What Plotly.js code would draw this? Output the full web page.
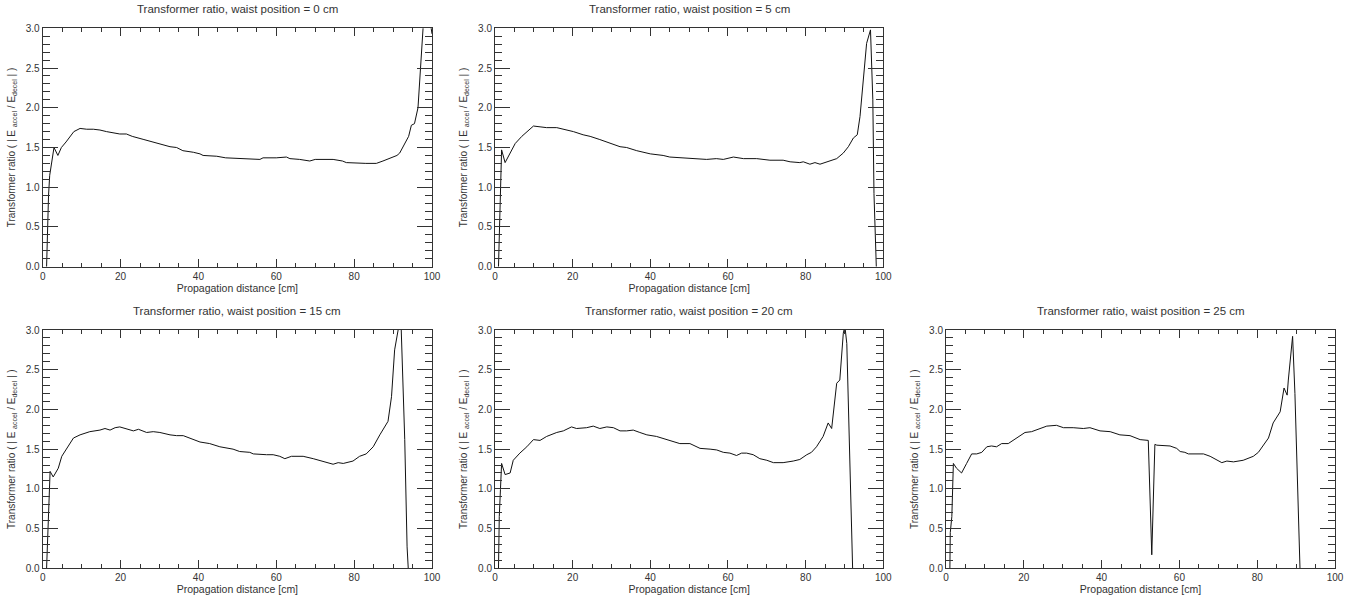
<!DOCTYPE html>
<html>
<head>
<meta charset="utf-8">
<script src="https://cdn.plot.ly/plotly-3.0.1.min.js"></script>
<style>html,body{margin:0;padding:0;background:#fff;}#chart{width:1367px;height:602px;}</style>
</head>
<body>
<div id="chart"></div>
<script>
// ---- data ----
const waistPositions = [0, 5, 15, 20, 25];
const xTickVals = [0, 20, 40, 60, 80, 100];
const yTickVals = [0.0, 0.5, 1.0, 1.5, 2.0, 2.5, 3.0];

const x_w0 = [1.0,1.2,1.5,1.8,2.2,2.9,3.9,4.8,6.0,8.0,9.6,11.3,13.0,14.7,16.4,18.0,19.8,21.5,23.0,26.0,28.4,31.0,32.7,34.4,36.0,38.7,40.4,41.2,44.7,47.0,50.6,55.8,56.6,60.0,62.6,63.5,66.0,68.6,70.0,74.6,77.0,78.0,83.0,85.7,87.4,89.0,91.0,91.7,93.0,94.0,94.7,95.5,96.4,97.0,97.7,98.6,100];
const y_w0 = [0.0,0.4,0.9,1.15,1.3,1.5,1.4,1.5,1.57,1.7,1.74,1.73,1.73,1.72,1.70,1.69,1.67,1.67,1.64,1.60,1.57,1.53,1.51,1.50,1.46,1.44,1.42,1.40,1.39,1.37,1.36,1.35,1.37,1.37,1.38,1.36,1.35,1.33,1.35,1.35,1.33,1.31,1.30,1.30,1.33,1.36,1.40,1.43,1.55,1.64,1.78,1.80,2.0,2.52,3.0,3.4,2.93];

const x_w5 = [0.9,1.3,1.5,1.7,2.6,3.9,5.2,6.9,8.2,9.9,11.6,13.3,15.9,17.6,20.2,22.7,24.5,27.0,29.6,32.2,33.9,36.5,40.0,43.3,45.0,48.5,52.8,54.5,57.0,58.8,61.4,64.0,67.4,70.8,74.2,76.0,78.5,79.4,81.1,82.4,83.7,85.4,88.0,89.7,91.0,92.3,93.3,94.0,94.8,95.7,96.7,97.3,97.6,97.9,98.2];
const y_w5 = [0.0,0.67,1.0,1.47,1.31,1.43,1.55,1.64,1.70,1.77,1.76,1.75,1.75,1.73,1.70,1.66,1.64,1.60,1.55,1.51,1.50,1.46,1.42,1.40,1.38,1.37,1.36,1.35,1.36,1.35,1.38,1.36,1.36,1.34,1.34,1.32,1.31,1.32,1.29,1.31,1.29,1.32,1.36,1.43,1.51,1.62,1.66,1.89,2.31,2.81,2.98,2.1,0.92,0.29,0.0];

const x_w15 = [1.0,1.3,1.6,1.9,2.7,4.0,4.9,6.2,7.9,9.6,12.1,14.7,16.0,17.3,18.6,19.8,21.6,23.3,24.6,26.7,28.4,30.1,32.7,34.4,36.1,37.8,40.4,42.9,45.5,48.9,50.6,53.2,54.1,57.5,59.2,60.9,62.2,63.9,66.9,69.5,72.0,74.6,75.9,77.2,79.7,81.4,83.1,84.9,86.6,88.7,89.6,90.4,91.3,91.8,92.1,93.0,93.6,93.9];
const y_w15 = [0.0,0.5,0.86,1.22,1.15,1.26,1.41,1.51,1.64,1.68,1.72,1.74,1.76,1.74,1.77,1.78,1.75,1.73,1.75,1.71,1.72,1.71,1.68,1.67,1.67,1.64,1.59,1.57,1.53,1.50,1.47,1.46,1.44,1.43,1.43,1.41,1.38,1.41,1.41,1.38,1.35,1.31,1.33,1.32,1.35,1.41,1.44,1.53,1.68,1.85,2.16,2.75,3.0,3.08,3.0,1.62,0.27,0.0];

const x_w20 = [0.9,1.1,1.4,1.7,2.6,3.9,4.7,6.4,8.2,9.9,11.6,13.3,15.9,17.6,19.7,21.0,23.6,25.3,27.0,28.8,30.5,32.2,33.9,35.6,37.3,39.1,41.6,44.2,45.9,47.6,50.2,52.8,55.4,57.1,58.8,60.5,62.2,63.5,64.8,66.5,68.2,70.0,71.7,74.2,76.8,78.5,80.3,81.5,82.8,84.5,85.8,86.7,88.0,88.8,89.7,90.1,90.6,91.4,91.8,92.1];
const y_w20 = [0.0,0.65,0.99,1.32,1.18,1.20,1.36,1.45,1.53,1.62,1.61,1.66,1.71,1.73,1.78,1.76,1.77,1.79,1.76,1.78,1.77,1.73,1.73,1.74,1.71,1.68,1.66,1.62,1.60,1.57,1.57,1.51,1.50,1.49,1.46,1.45,1.42,1.45,1.45,1.43,1.38,1.36,1.33,1.33,1.35,1.37,1.43,1.46,1.53,1.66,1.83,1.76,2.33,2.37,2.96,3.05,2.83,1.32,0.27,0.0];

const x_w25 = [1.0,1.1,1.5,1.9,2.7,4.0,5.3,6.6,7.9,9.2,10.5,11.7,13.0,14.3,16.0,18.2,20.3,22.0,23.7,25.9,28.4,30.2,32.7,35.3,37.0,39.6,42.2,44.7,47.3,49.9,52.0,52.9,53.7,54.2,57.6,59.3,60.2,61.4,62.3,66.2,67.9,70.9,72.2,73.9,76.4,79.0,80.3,81.6,82.9,84.1,85.9,86.9,87.7,88.0,89.1,89.7,90.4,91.0];
const y_w25 = [0.0,0.45,0.65,1.32,1.26,1.20,1.32,1.44,1.44,1.46,1.53,1.54,1.53,1.57,1.57,1.64,1.71,1.72,1.75,1.79,1.80,1.77,1.77,1.76,1.77,1.73,1.72,1.68,1.67,1.62,1.61,0.17,1.56,1.55,1.54,1.51,1.47,1.46,1.44,1.44,1.41,1.33,1.35,1.34,1.36,1.41,1.46,1.55,1.64,1.83,1.97,2.27,2.18,2.37,2.92,2.2,0.86,0.0];

const seriesX = [x_w0, x_w5, x_w15, x_w20, x_w25];
const seriesY = [y_w0, y_w5, y_w15, y_w20, y_w25];

// ---- layout geometry (paper fractions) ----
const W = 1367, H = 602;
const boxes = [
  {l: 42.7, r: 432,   t: 28.3, b: 266.7},
  {l: 495,  r: 883.3, t: 28.3, b: 266.7},
  {l: 42.7, r: 432,   t: 330,  b: 568.3},
  {l: 495,  r: 883.3, t: 330,  b: 568.3},
  {l: 946,  r: 1335,  t: 330,  b: 568.3}
];

const FONT = 'Liberation Sans, Arial, Helvetica, sans-serif';
const TXT = '#333';
const AX = '#333';

const traces = [];
const layout = {
  width: W, height: H,
  margin: {l: 0, r: 0, t: 0, b: 0},
  paper_bgcolor: '#fff', plot_bgcolor: '#fff',
  showlegend: false,
  font: {family: FONT, size: 10, color: TXT},
  annotations: []
};

waistPositions.forEach((wp, i) => {
  const n = i === 0 ? '' : String(i + 1);
  const b = boxes[i];
  traces.push({
    type: 'scatter', mode: 'lines',
    x: seriesX[i], y: seriesY[i],
    xaxis: 'x' + n, yaxis: 'y' + n,
    line: {color: '#111', width: 1},
    hoverinfo: 'x+y'
  });
  layout['xaxis' + n] = {
    domain: [b.l / W, b.r / W],
    anchor: 'y' + n,
    range: [0, 100],
    tickvals: xTickVals,
    ticks: 'inside', ticklen: 8, tickwidth: 1, tickcolor: AX,
    minor: {dtick: 5, ticks: 'inside', ticklen: 4, tickwidth: 1, tickcolor: AX, showgrid: false},
    showline: true, linecolor: AX, linewidth: 1, mirror: 'ticks',
    showgrid: false, zeroline: false,
    tickfont: {family: FONT, size: 10, color: TXT},
    title: {text: 'Propagation distance [cm]', font: {family: FONT, size: 10.5, color: TXT}, standoff: 0},
    automargin: false, fixedrange: true
  };
  layout['yaxis' + n] = {
    domain: [1 - b.b / H, 1 - b.t / H],
    anchor: 'x' + n,
    range: [0, 3],
    tickvals: yTickVals,
    tickformat: '.1f',
    ticks: 'inside', ticklen: 15, tickwidth: 1, tickcolor: AX,
    minor: {dtick: 0.1, ticks: 'inside', ticklen: 7, tickwidth: 1, tickcolor: AX, showgrid: false},
    showline: true, linecolor: AX, linewidth: 1, mirror: 'ticks',
    showgrid: false, zeroline: false,
    tickfont: {family: FONT, size: 10, color: TXT},
    title: {text: 'Transformer ratio ( | E <sub>accel</sub> / E<sub>decel</sub> | )', font: {family: FONT, size: 10, color: TXT}, standoff: 8},
    automargin: false, fixedrange: true
  };
  layout.annotations.push({
    text: 'Transformer ratio, waist position = ' + wp + ' cm',
    xref: 'paper', yref: 'paper',
    x: ((b.l + b.r) / 2) / W, y: 1 - (b.t - 19) / H,
    xanchor: 'center', yanchor: 'middle',
    showarrow: false,
    font: {family: FONT, size: 11.5, color: TXT}
  });
});

Plotly.newPlot('chart', traces, layout, {displayModeBar: false, staticPlot: false});
</script>
</body>
</html>
